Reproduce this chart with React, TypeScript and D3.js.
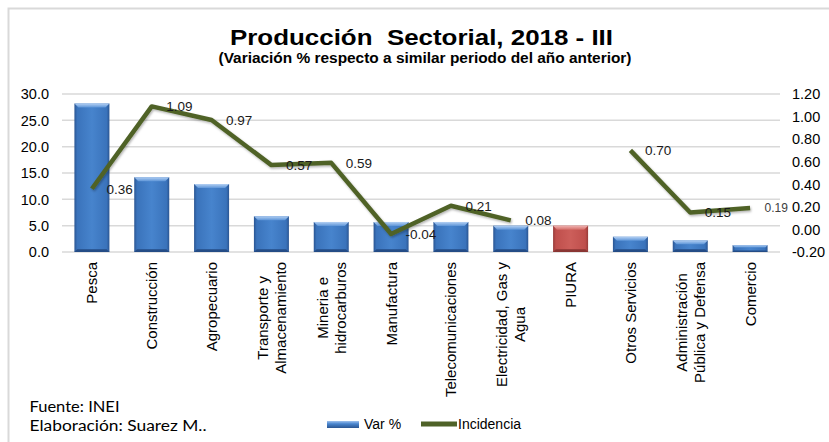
import React, { useEffect, useRef } from "react";
import * as d3 from "d3";

const categories = [
  "Pesca",
  "Construcción",
  "Agropecuario",
  "Transporte y\nAlmacenamiento",
  "Mineria e\nhidrocarburos",
  "Manufactura",
  "Telecomunicaciones",
  "Electricidad, Gas y\nAgua",
  "PIURA",
  "Otros Servicios",
  "Administración\nPública y Defensa",
  "Comercio",
];
const varPct = [28.2, 14.2, 12.9, 6.8, 5.7, 5.7, 5.7, 5.0, 5.0, 2.9, 2.2, 1.3];
const incidencia: (number | null)[] = [0.36, 1.09, 0.97, 0.57, 0.59, -0.04, 0.21, 0.08, null, 0.7, 0.15, 0.19];
const leftTicks = [0, 5, 10, 15, 20, 25, 30];
const rightTicks = [-0.2, 0, 0.2, 0.4, 0.6, 0.8, 1.0, 1.2];
const highlightCategory = "PIURA";
const title = "Producción  Sectorial, 2018 - III";
const subtitle = "(Variación % respecto a similar periodo del año anterior)";
const footerLines = ["Fuente: INEI", "Elaboración: Suarez M.."];
const legendLabels = ["Var %", "Incidencia"];

const W = 829;
const H = 442;
const FONT = "'Liberation Sans', Arial, sans-serif";

export default function App() {
  const ref = useRef<SVGSVGElement>(null);

  useEffect(() => {
    const svg = d3.select(ref.current!);
    svg.selectAll("*").remove();
    const defs = svg.append("defs");

    const mkGrad = (id: string, vertical: boolean, stops: [number, string][]) => {
      const g = defs
        .append("linearGradient")
        .attr("id", id)
        .attr("x1", 0)
        .attr("y1", 0)
        .attr("x2", vertical ? 0 : 1)
        .attr("y2", vertical ? 1 : 0);
      stops.forEach(([o, c]) => g.append("stop").attr("offset", o).attr("stop-color", c));
    };
    mkGrad("blueBody", false, [
      [0, "#2a5592"],
      [0.08, "#3a73bb"],
      [0.5, "#4784cd"],
      [0.92, "#3a73bb"],
      [1, "#2a5592"],
    ]);
    mkGrad("blueTop", true, [
      [0, "#b4d0f3"],
      [1, "#5d95d8"],
    ]);
    mkGrad("redBody", false, [
      [0, "#973b39"],
      [0.08, "#bf4f4c"],
      [0.5, "#cc5e5a"],
      [0.92, "#bf4f4c"],
      [1, "#973b39"],
    ]);
    mkGrad("redTop", true, [
      [0, "#f0b3b1"],
      [1, "#d46e6a"],
    ]);
    mkGrad("legendBlue", true, [
      [0, "#9fc2ee"],
      [0.4, "#4a86cf"],
      [1, "#2a5592"],
    ]);
    const f = defs.append("filter").attr("id", "shadow").attr("x", "-10%").attr("y", "-10%").attr("width", "120%").attr("height", "130%");
    f.append("feDropShadow").attr("dx", 1).attr("dy", 1.5).attr("stdDeviation", 1).attr("flood-color", "#000").attr("flood-opacity", 0.3);

    // background & frame
    svg.append("rect").attr("x", 0).attr("y", 0).attr("width", W).attr("height", H).attr("fill", "#fff");
    svg
      .append("rect")
      .attr("x", 8.5)
      .attr("y", 8.5)
      .attr("width", W + 20)
      .attr("height", H + 20)
      .attr("fill", "#fff")
      .attr("stroke", "#d9d9d9")
      .attr("stroke-width", 2);

    // titles
    svg
      .append("text")
      .attr("x", 421.5)
      .attr("y", 45)
      .attr("text-anchor", "middle")
      .attr("font-family", FONT)
      .attr("font-weight", "bold")
      .attr("font-size", 22)
      .attr("textLength", 383)
      .attr("lengthAdjust", "spacingAndGlyphs")
      .attr("xml:space", "preserve")
      .style("white-space", "pre")
      .text(title);
    svg
      .append("text")
      .attr("x", 425)
      .attr("y", 63)
      .attr("text-anchor", "middle")
      .attr("font-family", FONT)
      .attr("font-weight", "bold")
      .attr("font-size", 14)
      .attr("textLength", 413)
      .attr("lengthAdjust", "spacingAndGlyphs")
      .text(subtitle);

    const x = d3
      .scaleBand<string>()
      .domain(categories)
      .range([62, 780])
      .paddingInner(0.415)
      .paddingOuter(0.2075);
    const yL = d3.scaleLinear().domain([0, 30]).range([252, 94]);
    const yR = d3.scaleLinear().domain([-0.2, 1.2]).range([252, 94]);
    const cx = (c: string) => (x(c) as number) + x.bandwidth() / 2;

    // gridlines
    svg
      .append("g")
      .selectAll("line")
      .data(leftTicks)
      .join("line")
      .attr("x1", 62)
      .attr("x2", 780)
      .attr("y1", (d) => yL(d))
      .attr("y2", (d) => yL(d))
      .attr("stroke", "#d9d9d9")
      .attr("stroke-width", 1.5);

    // left axis labels
    svg
      .append("g")
      .selectAll("text")
      .data(leftTicks)
      .join("text")
      .attr("x", 49)
      .attr("y", (d) => yL(d))
      .attr("dy", "0.36em")
      .attr("text-anchor", "end")
      .attr("font-family", FONT)
      .attr("font-size", 14.5)
      .attr("fill", "#000")
      .text((d) => d.toFixed(1));

    // right axis labels
    svg
      .append("g")
      .selectAll("text")
      .data(rightTicks)
      .join("text")
      .attr("x", 792)
      .attr("y", (d) => yR(d))
      .attr("dy", "0.36em")
      .attr("text-anchor", "start")
      .attr("font-family", FONT)
      .attr("font-size", 14.5)
      .attr("fill", "#000")
      .text((d) => d.toFixed(2));

    // bars
    const bars = svg.append("g");
    categories.forEach((c, i) => {
      const v = varPct[i];
      const bx = x(c) as number;
      const bw = x.bandwidth();
      const by = yL(v);
      const bh = yL(0) - yL(v);
      const red = c === highlightCategory;
      const bevel = Math.min(4, bh / 3);
      bars
        .append("rect")
        .attr("x", bx)
        .attr("y", by)
        .attr("width", bw)
        .attr("height", bh)
        .attr("fill", red ? "url(#redBody)" : "url(#blueBody)");
      bars
        .append("polygon")
        .attr(
          "points",
          [
            [bx, by],
            [bx + bw, by],
            [bx + bw - bevel, by + bevel],
            [bx + bevel, by + bevel],
          ]
            .map((p) => p.join(","))
            .join(" ")
        )
        .attr("fill", red ? "url(#redTop)" : "url(#blueTop)");
      bars
        .append("polygon")
        .attr(
          "points",
          [
            [bx + bevel * 0.7, by + bh - bevel * 0.7],
            [bx + bw - bevel * 0.7, by + bh - bevel * 0.7],
            [bx + bw, by + bh],
            [bx, by + bh],
          ]
            .map((p) => p.join(","))
            .join(" ")
        )
        .attr("fill", red ? "#8a3533" : "#244c86");
    });

    // line
    const lineGen = d3
      .line<number | null>()
      .defined((d) => d != null)
      .x((_, i) => cx(categories[i]))
      .y((d) => yR(d as number));
    svg
      .append("path")
      .attr("d", lineGen(incidencia) as string)
      .attr("fill", "none")
      .attr("stroke", "#4f6228")
      .attr("stroke-width", 4.5)
      .attr("stroke-linejoin", "round")
      .attr("filter", "url(#shadow)");

    // data labels
    svg
      .append("g")
      .selectAll("text")
      .data(incidencia.map((v, i) => ({ v, c: categories[i], last: i === categories.length - 1 })).filter((d) => d.v != null))
      .join("text")
      .attr("x", (d) => cx(d.c) + 14.5)
      .attr("y", (d) => yR(d.v as number))
      .attr("dy", "0.36em")
      .attr("font-family", FONT)
      .attr("font-size", (d) => (d.last ? 12 : 13.5))
      .attr("fill", (d) => (d.last ? "#404040" : "#1a1a1a"))
      .text((d) => (d.v as number).toFixed(2));

    // category labels
    const catG = svg.append("g");
    categories.forEach((c) => {
      const lines = c.split("\n");
      const g = catG.append("g").attr("transform", `translate(${cx(c)},262) rotate(-90)`);
      const n = lines.length;
      const texts = lines.map((ln, i) =>
        g
          .append("text")
          .attr("y", (i - (n - 1) / 2) * 18 + 5.5)
          .attr("font-family", FONT)
          .attr("font-size", 15)
          .attr("fill", "#000")
          .text(ln)
      );
      if (n === 1) {
        texts[0].attr("x", 0).attr("text-anchor", "end");
      } else {
        const maxLen = d3.max(texts, (t) => (t.node() as SVGTextElement).getComputedTextLength()) || 0;
        texts.forEach((t) => t.attr("x", -maxLen / 2).attr("text-anchor", "middle"));
      }
    });

    // legend
    const lg = svg.append("g");
    lg.append("rect").attr("x", 327).attr("y", 421).attr("width", 32).attr("height", 7).attr("fill", "url(#legendBlue)");
    lg.append("text")
      .attr("x", 364)
      .attr("y", 428.5)
      .attr("font-family", FONT)
      .attr("font-size", 14)
      .attr("fill", "#000")
      .text(legendLabels[0]);
    lg.append("line")
      .attr("x1", 421)
      .attr("x2", 457)
      .attr("y1", 424)
      .attr("y2", 424)
      .attr("stroke", "#4f6228")
      .attr("stroke-width", 5);
    lg.append("text")
      .attr("x", 458)
      .attr("y", 428.5)
      .attr("font-family", FONT)
      .attr("font-size", 14)
      .attr("fill", "#000")
      .text(legendLabels[1]);

    // footer
    const footW = [90, 177];
    footerLines.forEach((t, i) => {
      svg
        .append("text")
        .attr("x", 29.5)
        .attr("y", 411.5 + i * 19)
        .attr("font-family", "Lato, 'Noto Sans', sans-serif")
        .attr("font-size", 15.5)
        .attr("fill", "#000")
        .attr("textLength", footW[i])
        .attr("lengthAdjust", "spacingAndGlyphs")
        .text(t);
    });
  }, []);

  return (
    <svg
      ref={ref}
      width={W}
      height={H}
      style={{ position: "absolute", left: 0, top: 0, display: "block" }}
    />
  );
}
